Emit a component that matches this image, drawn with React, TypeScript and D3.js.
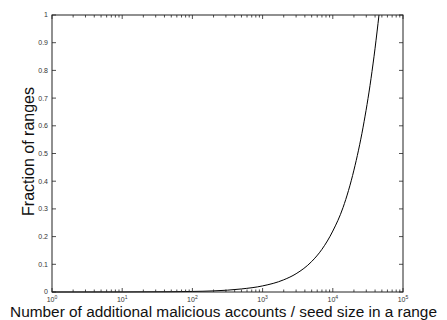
import { useRef, useEffect } from 'react';
import * as d3 from 'd3';

// curve (x = accounts / seed size, y = fraction of ranges)
const X_VALUES = [1, 10, 50, 100, 200, 500, 1000, 2000, 3000, 5000, 7000, 10000, 14000, 20000, 27000, 35000, 40000, 45500];
const Y_VALUES = [0, 0.0002, 0.001, 0.002, 0.004, 0.011, 0.022, 0.044, 0.066, 0.11, 0.154, 0.22, 0.305, 0.44, 0.595, 0.77, 0.88, 1.0];
const X_DECADES = [0, 1, 2, 3, 4, 5];
const Y_TICKS = [0, 0.1, 0.2, 0.3, 0.4, 0.5, 0.6, 0.7, 0.8, 0.9, 1];

const W = 447;
const H = 320;

export default function App() {
  const ref = useRef<SVGSVGElement>(null);

  useEffect(() => {
    const margin = { top: 15, right: 44, bottom: 28, left: 52 };
    const innerW = W - margin.left - margin.right;
    const innerH = H - margin.top - margin.bottom;
    const svg = d3.select(ref.current);
    svg.selectAll('*').remove();

    const x = d3.scaleLog().domain([1, 1e5]).range([0, innerW]);
    const y = d3.scaleLinear().domain([0, 1]).range([innerH, 0]);
    const g = svg.append('g').attr('transform', `translate(${margin.left},${margin.top})`);
    const axisColor = '#222';
    const font = 'Liberation Sans, Arial, Helvetica, sans-serif';

    // Curve
    const pts = X_VALUES.map((v, i) => [v, Y_VALUES[i]] as [number, number]);
    g.append('path').datum(pts)
      .attr('d', d3.line<[number, number]>().x(d => x(d[0])).y(d => y(d[1])).curve(d3.curveMonotoneX))
      .attr('fill', 'none').attr('stroke', '#000').attr('stroke-width', 1);

    // Box
    g.append('rect').attr('x', 0).attr('y', 0).attr('width', innerW).attr('height', innerH)
      .attr('fill', 'none').attr('stroke', axisColor).attr('stroke-width', 1);

    // X ticks (major + minor, top and bottom, pointing inward)
    const minor: number[] = [];
    X_DECADES.slice(0, -1).forEach(p => { for (let k = 2; k <= 9; k++) minor.push(k * Math.pow(10, p)); });
    const majors = X_DECADES.map(p => Math.pow(10, p));
    const tk = g.append('g').attr('stroke', axisColor).attr('stroke-width', 0.8);
    [...majors.map(v => ({ v, len: 4 })), ...minor.map(v => ({ v, len: 2.5 }))].forEach(({ v, len }) => {
      tk.append('line').attr('x1', x(v)).attr('x2', x(v)).attr('y1', innerH).attr('y2', innerH - len);
      tk.append('line').attr('x1', x(v)).attr('x2', x(v)).attr('y1', 0).attr('y2', len);
    });
    Y_TICKS.forEach(v => {
      tk.append('line').attr('x1', 0).attr('x2', 4).attr('y1', y(v)).attr('y2', y(v));
      tk.append('line').attr('x1', innerW).attr('x2', innerW - 4).attr('y1', y(v)).attr('y2', y(v));
    });

    // X tick labels 10^n
    X_DECADES.forEach(p => {
      const t = g.append('text').attr('x', x(Math.pow(10, p))).attr('y', innerH + 10)
        .attr('text-anchor', 'middle').attr('font-family', font).attr('font-size', 7).attr('fill', '#333');
      t.append('tspan').text('10');
      t.append('tspan').attr('font-size', 5).attr('dy', -3).text(String(p));
    });

    // Y tick labels
    g.append('g').selectAll('text').data(Y_TICKS).join('text')
      .attr('x', -4).attr('y', d => y(d)).attr('dy', '0.35em')
      .attr('text-anchor', 'end').attr('font-family', font).attr('font-size', 7).attr('fill', '#333')
      .text(d => String(d));

    // Axis titles
    svg.append('text').attr('x', 223.5).attr('y', 317)
      .attr('text-anchor', 'middle').attr('font-family', font).attr('font-size', 15.4).attr('fill', '#111')
      .text('Number of additional malicious accounts / seed size in a range');
    svg.append('text').attr('transform', `translate(34,151.5) rotate(-90)`)
      .attr('text-anchor', 'middle').attr('font-family', font).attr('font-size', 16).attr('fill', '#111')
      .text('Fraction of ranges');
  }, []);

  return (
    <svg ref={ref} width={W} height={H} style={{ position: 'absolute', left: 0, top: 0, background: '#fff' }} />
  );
}
